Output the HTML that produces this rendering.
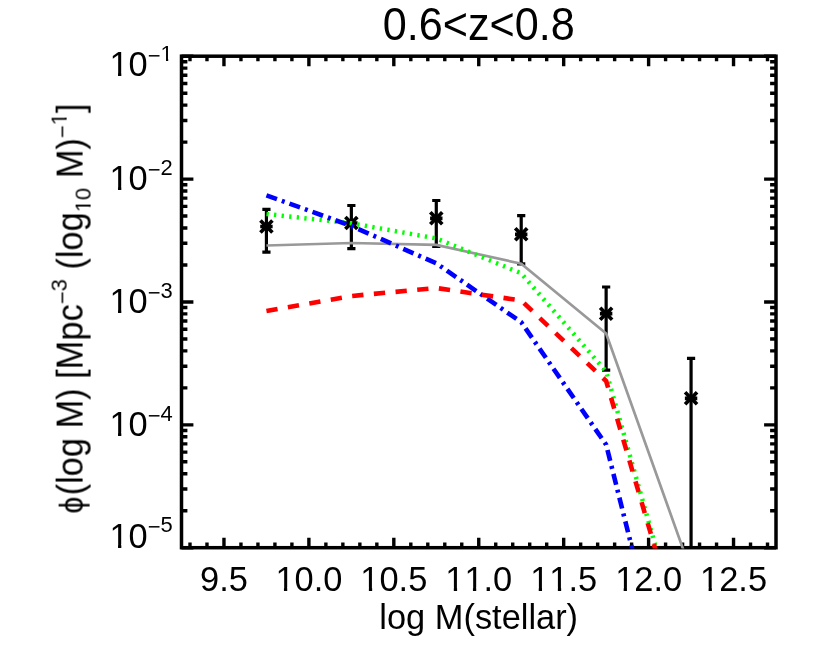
<!DOCTYPE html>
<html><head><meta charset="utf-8"><title>0.6&lt;z&lt;0.8</title>
<style>
html,body{margin:0;padding:0;background:#fff;}
body{width:830px;height:663px;overflow:hidden;}
svg{display:block;}
text{font-family:"Liberation Sans",sans-serif;fill:#000;font-kerning:none;white-space:pre;}
.txt{opacity:0.999;}
</style></head><body>
<svg width="830" height="663" viewBox="0 0 830 663">
<rect x="0" y="0" width="830" height="663" fill="#fff"/>
<defs><clipPath id="plot"><rect x="181.5" y="56.2" width="594.5" height="492.2"/></clipPath></defs>
<rect x="181.5" y="56.2" width="594.5" height="491.5" fill="none" stroke="#000" stroke-width="3.5"/>
<path d="M189.99 547.7v-5.1M189.99 56.2v5.1M206.98 547.7v-5.1M206.98 56.2v5.1M223.96 547.7v-10M223.96 56.2v10M240.95 547.7v-5.1M240.95 56.2v5.1M257.94 547.7v-5.1M257.94 56.2v5.1M274.92 547.7v-5.1M274.92 56.2v5.1M291.91 547.7v-5.1M291.91 56.2v5.1M308.89 547.7v-10M308.89 56.2v10M325.88 547.7v-5.1M325.88 56.2v5.1M342.86 547.7v-5.1M342.86 56.2v5.1M359.85 547.7v-5.1M359.85 56.2v5.1M376.84 547.7v-5.1M376.84 56.2v5.1M393.82 547.7v-10M393.82 56.2v10M410.81 547.7v-5.1M410.81 56.2v5.1M427.79 547.7v-5.1M427.79 56.2v5.1M444.78 547.7v-5.1M444.78 56.2v5.1M461.76 547.7v-5.1M461.76 56.2v5.1M478.75 547.7v-10M478.75 56.2v10M495.74 547.7v-5.1M495.74 56.2v5.1M512.72 547.7v-5.1M512.72 56.2v5.1M529.71 547.7v-5.1M529.71 56.2v5.1M546.69 547.7v-5.1M546.69 56.2v5.1M563.68 547.7v-10M563.68 56.2v10M580.66 547.7v-5.1M580.66 56.2v5.1M597.65 547.7v-5.1M597.65 56.2v5.1M614.64 547.7v-5.1M614.64 56.2v5.1M631.62 547.7v-5.1M631.62 56.2v5.1M648.61 547.7v-10M648.61 56.2v10M665.59 547.7v-5.1M665.59 56.2v5.1M682.58 547.7v-5.1M682.58 56.2v5.1M699.56 547.7v-5.1M699.56 56.2v5.1M716.55 547.7v-5.1M716.55 56.2v5.1M733.54 547.7v-10M733.54 56.2v10M750.52 547.7v-5.1M750.52 56.2v5.1M767.51 547.7v-5.1M767.51 56.2v5.1M181.5 547.7h11.9M776 547.7h-11.9M181.5 510.71h5.9M776 510.71h-5.9M181.5 489.07h5.9M776 489.07h-5.9M181.5 473.72h5.9M776 473.72h-5.9M181.5 461.81h5.9M776 461.81h-5.9M181.5 452.08h5.9M776 452.08h-5.9M181.5 443.86h5.9M776 443.86h-5.9M181.5 436.73h5.9M776 436.73h-5.9M181.5 430.45h5.9M776 430.45h-5.9M181.5 424.83h11.9M776 424.83h-11.9M181.5 387.84h5.9M776 387.84h-5.9M181.5 366.2h5.9M776 366.2h-5.9M181.5 350.85h5.9M776 350.85h-5.9M181.5 338.94h5.9M776 338.94h-5.9M181.5 329.21h5.9M776 329.21h-5.9M181.5 320.98h5.9M776 320.98h-5.9M181.5 313.86h5.9M776 313.86h-5.9M181.5 307.57h5.9M776 307.57h-5.9M181.5 301.95h11.9M776 301.95h-11.9M181.5 264.96h5.9M776 264.96h-5.9M181.5 243.32h5.9M776 243.32h-5.9M181.5 227.97h5.9M776 227.97h-5.9M181.5 216.06h5.9M776 216.06h-5.9M181.5 206.33h5.9M776 206.33h-5.9M181.5 198.11h5.9M776 198.11h-5.9M181.5 190.98h5.9M776 190.98h-5.9M181.5 184.7h5.9M776 184.7h-5.9M181.5 179.08h11.9M776 179.08h-11.9M181.5 142.09h5.9M776 142.09h-5.9M181.5 120.45h5.9M776 120.45h-5.9M181.5 105.1h5.9M776 105.1h-5.9M181.5 93.19h5.9M776 93.19h-5.9M181.5 83.46h5.9M776 83.46h-5.9M181.5 75.23h5.9M776 75.23h-5.9M181.5 68.11h5.9M776 68.11h-5.9M181.5 61.82h5.9M776 61.82h-5.9M181.5 56.2h11.9M776 56.2h-11.9" stroke="#000" stroke-width="3.4" fill="none"/>
<g clip-path="url(#plot)" stroke="#000" stroke-width="3.2" fill="none" stroke-linecap="butt">
<path d="M266.43 209.4V252.2M262.33 209.4H270.53M262.33 252.2H270.53"/>
<path stroke-width="3.7" d="M260.43 220.5L272.43 232.5M260.43 232.5L272.43 220.5M260.23 226.5H272.63"/>
<path d="M351.36 205.5V248.7M347.26 205.5H355.46M347.26 248.7H355.46"/>
<path stroke-width="3.7" d="M345.36 217L357.36 229M345.36 229L357.36 217M345.16 223H357.56"/>
<path d="M436.29 200.5V246.3M432.19 200.5H440.39M432.19 246.3H440.39"/>
<path stroke-width="3.7" d="M430.29 212.3L442.29 224.3M430.29 224.3L442.29 212.3M430.09 218.3H442.49"/>
<path d="M521.21 215.7V263.8M517.11 215.7H525.31M517.11 263.8H525.31"/>
<path stroke-width="3.7" d="M515.21 228.3L527.21 240.3M515.21 240.3L527.21 228.3M515.01 234.3H527.41"/>
<path d="M606.14 287V370.1M602.04 287H610.24M602.04 370.1H610.24"/>
<path stroke-width="3.7" d="M600.14 307.7L612.14 319.7M600.14 319.7L612.14 307.7M599.94 313.7H612.34"/>
<path d="M691.07 358.3V700M686.97 358.3H695.17M686.97 700H695.17"/>
<path stroke-width="3.7" d="M685.07 392.3L697.07 404.3M685.07 404.3L697.07 392.3M684.87 398.3H697.27"/>
</g>
<g clip-path="url(#plot)" fill="none" stroke-linejoin="miter" stroke-linecap="butt">
<polyline points="266.43,245.5 351.36,243 436.29,244.9 521.21,263.7 606.14,333.5 691.07,571.4" stroke="#999999" stroke-width="2.7"/>
<polyline points="266.43,214 351.36,223.3 436.29,238.4 521.21,273.3 606.14,371.5 691.07,672" stroke="#00ff00" stroke-width="4.5" stroke-dasharray="2.3 5.32"/>
<polyline points="266.43,195.3 351.36,226 436.29,263.3 521.21,322.2 606.14,444.7 691.07,784" stroke="#0000ff" stroke-width="4.6" stroke-dasharray="11.2 5.15 3 5.15"/>
<polyline points="266.43,311 351.36,296 436.29,288 521.21,300.5 606.14,381 691.07,671.4" stroke="#ff0000" stroke-width="4.6" stroke-dasharray="11.3 10.47"/>
</g>
<g class="txt">
<text transform="translate(478.7,40.1) scale(1,1.050)" font-size="43.2" text-anchor="middle">0.6&lt;z&lt;0.8</text>
<text transform="translate(223.96,591) scale(1,1.030)" font-size="34.4" text-anchor="middle">9.5</text>
<text transform="translate(308.89,591) scale(1,1.030)" font-size="34.4" text-anchor="middle">10.0</text>
<path transform="translate(308.89,591) scale(1,1.030)" d="M-32.44 -3.47H-24.94V0.70H-32.44ZM-21.66 -3.47H-14.62V0.70H-21.66Z" fill="#fff"/>
<text transform="translate(393.82,591) scale(1,1.030)" font-size="34.4" text-anchor="middle">10.5</text>
<path transform="translate(393.82,591) scale(1,1.030)" d="M-32.44 -3.47H-24.94V0.70H-32.44ZM-21.66 -3.47H-14.62V0.70H-21.66Z" fill="#fff"/>
<text transform="translate(478.75,591) scale(1,1.030)" font-size="34.4" text-anchor="middle">11.0</text>
<path transform="translate(478.75,591) scale(1,1.030)" d="M-32.44 -3.47H-24.94V0.70H-32.44ZM-21.66 -3.47H-14.62V0.70H-21.66ZM-13.31 -3.47H-5.81V0.70H-13.31ZM-2.53 -3.47H4.51V0.70H-2.53Z" fill="#fff"/>
<text transform="translate(563.68,591) scale(1,1.030)" font-size="34.4" text-anchor="middle">11.5</text>
<path transform="translate(563.68,591) scale(1,1.030)" d="M-32.44 -3.47H-24.94V0.70H-32.44ZM-21.66 -3.47H-14.62V0.70H-21.66ZM-13.31 -3.47H-5.81V0.70H-13.31ZM-2.53 -3.47H4.51V0.70H-2.53Z" fill="#fff"/>
<text transform="translate(648.61,591) scale(1,1.030)" font-size="34.4" text-anchor="middle">12.0</text>
<path transform="translate(648.61,591) scale(1,1.030)" d="M-32.44 -3.47H-24.94V0.70H-32.44ZM-21.66 -3.47H-14.62V0.70H-21.66Z" fill="#fff"/>
<text transform="translate(733.54,591) scale(1,1.030)" font-size="34.4" text-anchor="middle">12.5</text>
<path transform="translate(733.54,591) scale(1,1.030)" d="M-32.44 -3.47H-24.94V0.70H-32.44ZM-21.66 -3.47H-14.62V0.70H-21.66Z" fill="#fff"/>
<text transform="translate(478.7,628.6) scale(1,1.030)" font-size="34.4" text-anchor="middle">log M(stellar)</text>
<text transform="translate(109.5,76.4) scale(1,1.030)" font-size="34.4" text-anchor="start">10</text>
<path transform="translate(109.5,76.4) scale(1,1.030)" d="M1.03 -3.47H8.53V0.70H1.03ZM11.82 -3.47H18.85V0.70H11.82Z" fill="#fff"/>
<text transform="translate(147.76,63) scale(1,0.970)" font-size="22" text-anchor="start">−</text>
<text transform="translate(160.61,60.85) scale(1,0.970)" font-size="22" text-anchor="start">1</text>
<path transform="translate(160.61,60.85) scale(1,0.970)" d="M0.66 -2.54H5.41V0.70H0.66ZM7.60 -2.54H12.06V0.70H7.60Z" fill="#fff"/>
<text transform="translate(109.5,190.4) scale(1,1.030)" font-size="34.4" text-anchor="start">10</text>
<path transform="translate(109.5,190.4) scale(1,1.030)" d="M1.03 -3.47H8.53V0.70H1.03ZM11.82 -3.47H18.85V0.70H11.82Z" fill="#fff"/>
<text transform="translate(147.76,177) scale(1,0.970)" font-size="22" text-anchor="start">−</text>
<text transform="translate(160.61,174.85) scale(1,0.970)" font-size="22" text-anchor="start">2</text>
<text transform="translate(109.5,313.3) scale(1,1.030)" font-size="34.4" text-anchor="start">10</text>
<path transform="translate(109.5,313.3) scale(1,1.030)" d="M1.03 -3.47H8.53V0.70H1.03ZM11.82 -3.47H18.85V0.70H11.82Z" fill="#fff"/>
<text transform="translate(147.76,299.9) scale(1,0.970)" font-size="22" text-anchor="start">−</text>
<text transform="translate(160.61,297.75) scale(1,0.970)" font-size="22" text-anchor="start">3</text>
<text transform="translate(109.5,436.1) scale(1,1.030)" font-size="34.4" text-anchor="start">10</text>
<path transform="translate(109.5,436.1) scale(1,1.030)" d="M1.03 -3.47H8.53V0.70H1.03ZM11.82 -3.47H18.85V0.70H11.82Z" fill="#fff"/>
<text transform="translate(147.76,422.7) scale(1,0.970)" font-size="22" text-anchor="start">−</text>
<text transform="translate(160.61,420.55) scale(1,0.970)" font-size="22" text-anchor="start">4</text>
<text transform="translate(109.5,547.8) scale(1,1.030)" font-size="34.4" text-anchor="start">10</text>
<path transform="translate(109.5,547.8) scale(1,1.030)" d="M1.03 -3.47H8.53V0.70H1.03ZM11.82 -3.47H18.85V0.70H11.82Z" fill="#fff"/>
<text transform="translate(147.76,534.4) scale(1,0.970)" font-size="22" text-anchor="start">−</text>
<text transform="translate(160.61,532.25) scale(1,0.970)" font-size="22" text-anchor="start">5</text>
<g transform="translate(82.6,513.6) rotate(-90)">
<text transform="translate(0,0) scale(0.88,0.957)" font-size="34.4">ϕ</text>
<text transform="translate(18.25,0) scale(1,1.075)" font-size="34.4" text-anchor="start">(log M) [Mpc</text>
<text transform="translate(209.39,-13.4) scale(1,1.010)" font-size="22" text-anchor="start">−</text>
<text transform="translate(222.23,-15.55) scale(1,1.010)" font-size="22" text-anchor="start">3</text>
<text transform="translate(244.03,0) scale(1,1.075)" font-size="34.4" text-anchor="start">(log</text>
<text transform="translate(301.39,7.8) scale(1,1.010)" font-size="22" text-anchor="start">10</text>
<path transform="translate(301.39,7.8) scale(1,1.010)" d="M0.66 -2.54H5.41V0.70H0.66ZM7.60 -2.54H12.06V0.70H7.60Z" fill="#fff"/>
<text transform="translate(335.42,0) scale(1,1.075)" font-size="34.4" text-anchor="start">M)</text>
<text transform="translate(375.53,-13.4) scale(1,1.010)" font-size="22" text-anchor="start">−</text>
<text transform="translate(388.37,-15.55) scale(1,1.010)" font-size="22" text-anchor="start">1</text>
<path transform="translate(388.37,-15.55) scale(1,1.010)" d="M0.66 -2.54H5.41V0.70H0.66ZM7.60 -2.54H12.06V0.70H7.60Z" fill="#fff"/>
<text transform="translate(400.61,0) scale(1,1.075)" font-size="34.4" text-anchor="start">]</text>
</g>
</g>
</svg></body></html>
